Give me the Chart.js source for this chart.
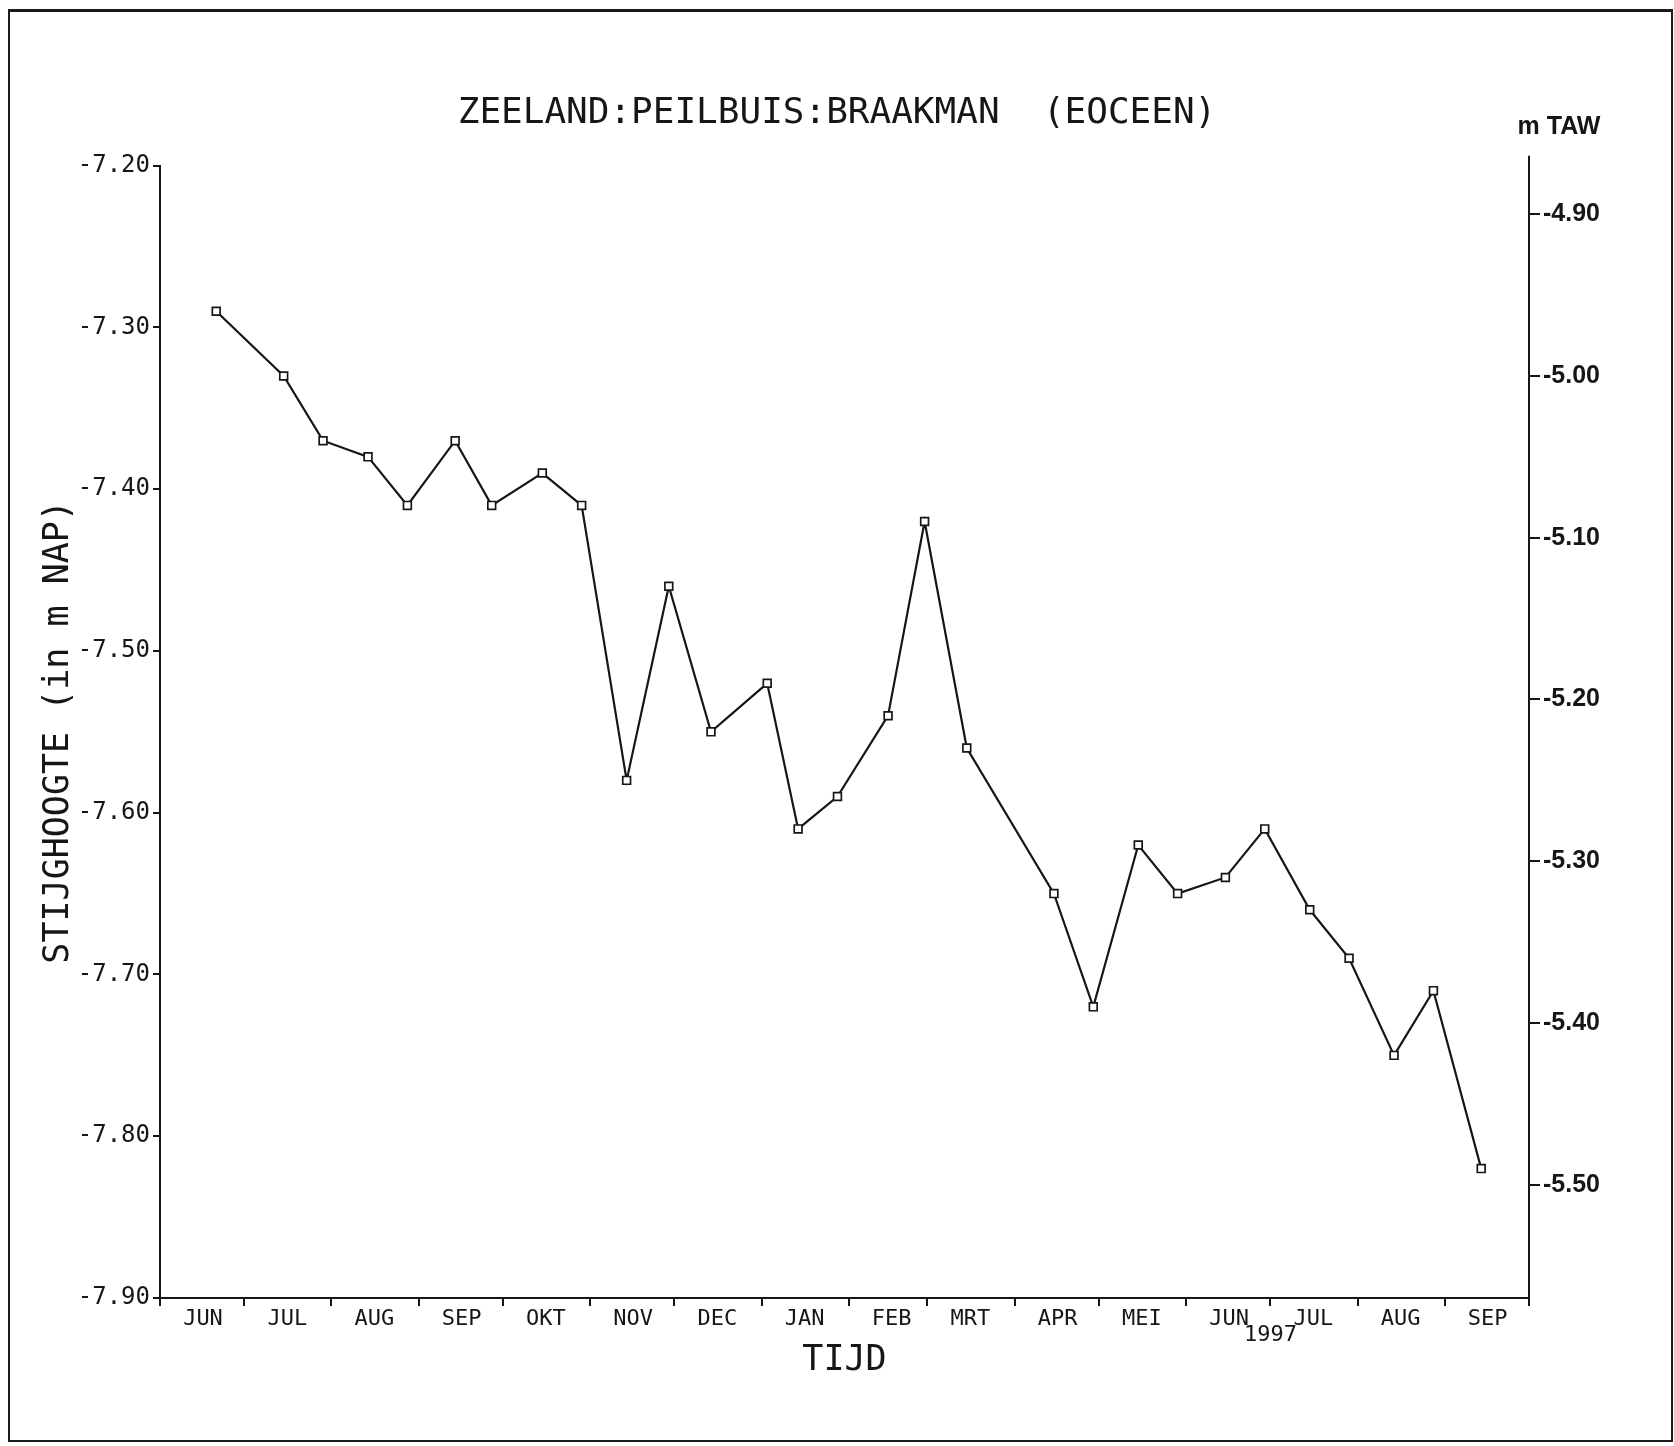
<!DOCTYPE html>
<html>
<head>
<meta charset="utf-8">
<script src="https://cdn.jsdelivr.net/npm/chart.js@4.4.1/dist/chart.umd.min.js"></script>
<style>
  html, body { margin: 0; padding: 0; background: #fff; }
  #wrap { position: relative; width: 1674px; height: 1446px; }
  #frame {
    position: absolute; left: 8px; top: 9px; width: 1665px; height: 1433px;
    box-sizing: border-box; pointer-events: none;
    border-left: 2px solid #1a1a1a; border-top: 3px solid #1a1a1a;
    border-bottom: 2px solid #1a1a1a; border-right: 2px solid #1a1a1a;
  }
  canvas { display: block; }
</style>
</head>
<body>
<div id="wrap">
  <canvas id="chart" width="1674" height="1446"></canvas>
  <div id="frame"></div>
</div>
<script>
// Measurement dates of the piezometer
const measureDates = [
  '1996-06-21', '1996-07-15', '1996-07-29', '1996-08-14', '1996-08-28',
  '1996-09-14', '1996-09-27', '1996-10-15', '1996-10-29', '1996-11-14',
  '1996-11-29', '1996-12-14', '1997-01-03', '1997-01-14', '1997-01-28',
  '1997-02-15', '1997-02-28', '1997-03-15', '1997-04-15', '1997-04-29',
  '1997-05-15', '1997-05-29', '1997-06-15', '1997-06-29', '1997-07-15',
  '1997-07-29', '1997-08-14', '1997-08-28', '1997-09-14'
];

// Groundwater level, m NAP
const levelsNAP = [
  -7.29, -7.33, -7.37, -7.38, -7.41,
  -7.37, -7.41, -7.39, -7.41, -7.58,
  -7.46, -7.55, -7.52, -7.61, -7.59,
  -7.54, -7.42, -7.56, -7.65, -7.72,
  -7.62, -7.65, -7.64, -7.61, -7.66,
  -7.69, -7.75, -7.71, -7.82
];

// Month boundaries of the time axis and the month names between them
const monthStarts = [
  '1996-06-01', '1996-07-01', '1996-08-01', '1996-09-01', '1996-10-01',
  '1996-11-01', '1996-12-01', '1997-01-01', '1997-02-01', '1997-03-01',
  '1997-04-01', '1997-05-01', '1997-06-01', '1997-07-01', '1997-08-01',
  '1997-09-01', '1997-10-01'
];
const monthLabels = [
  'JUN', 'JUL', 'AUG', 'SEP', 'OKT', 'NOV', 'DEC', 'JAN',
  'FEB', 'MRT', 'APR', 'MEI', 'JUN', 'JUL', 'AUG', 'SEP'
];
const yearLabel = '1997';
const yearLabelAt = '1997-07-01';

// Tick values of both vertical axes
const napTicks = [-7.20, -7.30, -7.40, -7.50, -7.60, -7.70, -7.80, -7.90];
const tawTicks = [-4.90, -5.00, -5.10, -5.20, -5.30, -5.40, -5.50];
const napToTaw = 2.33;   // m TAW = m NAP + 2.33
const napMin = -7.90, napMax = -7.20;

const DAY = 86400000;
const day0 = Date.UTC(1996, 5, 1);
const toDay = s => (Date.parse(s + 'T00:00:00Z') - day0) / DAY;

const INK = '#161616';
const MONO = '"DejaVu Sans Mono", monospace';

// Extra annotations: year under the axis, unit of the right axis
const extras = {
  id: 'extras',
  afterDraw(chart) {
    const { ctx, chartArea, scales } = chart;
    const x = scales.x, y2 = scales.y2;
    ctx.save();
    ctx.fillStyle = INK;
    ctx.textAlign = 'center';
    ctx.textBaseline = 'middle';
    ctx.font = '22px ' + MONO;
    ctx.fillText(yearLabel, x.getPixelForValue(toDay(yearLabelAt)), chartArea.bottom + 37);

    ctx.font = 'bold 25px "Liberation Sans Narrow", "Liberation Sans", sans-serif';
    ctx.fillText('m TAW', y2.left + 30, 127);

    // right axis line runs a little above the plot area
    ctx.strokeStyle = INK;
    ctx.lineWidth = 2;
    ctx.beginPath();
    ctx.moveTo(y2.left, chartArea.top - 10);
    ctx.lineTo(y2.left, chartArea.top);
    ctx.stroke();
    ctx.restore();
  }
};

new Chart(document.getElementById('chart'), {
  type: 'line',
  data: {
    datasets: [{
      data: measureDates.map((d, i) => ({ x: toDay(d), y: levelsNAP[i] })),
      yAxisID: 'y',
      borderColor: INK,
      borderWidth: 2.2,
      tension: 0,
      pointStyle: 'rect',
      pointRadius: 5.5,
      pointBorderWidth: 1.7,
      pointBorderColor: INK,
      pointBackgroundColor: '#fff'
    }]
  },
  options: {
    responsive: false,
    animation: false,
    devicePixelRatio: 1,
    layout: { padding: 0 },
    plugins: {
      legend: { display: false },
      tooltip: { enabled: false },
      title: {
        display: true,
        text: 'ZEELAND:PEILBUIS:BRAAKMAN  (EOCEEN)',
        color: INK,
        font: { family: MONO, size: 36, weight: 'normal', lineHeight: 1.2 },
        padding: { top: 92, bottom: 30.5 }
      }
    },
    scales: {
      x: {
        type: 'linear',
        position: 'bottom',
        min: toDay(monthStarts[0]),
        max: toDay(monthStarts[monthStarts.length - 1]),
        afterBuildTicks: s => { s.ticks = monthStarts.map(d => ({ value: toDay(d) })); },
        afterFit: s => { s.height = 148; },
        ticks: {
          autoSkip: false,
          maxRotation: 0,
          labelOffset: 43,
          padding: 0,
          color: INK,
          font: { family: MONO, size: 22 },
          callback: (v, i) => monthLabels[i] ?? ''
        },
        grid: { drawOnChartArea: false, drawTicks: true, tickLength: 8, color: INK, lineWidth: 2 },
        border: { display: true, color: INK, width: 2 },
        title: {
          display: true, text: 'TIJD', color: INK,
          font: { family: MONO, size: 35, lineHeight: 1.2 },
          padding: { top: 0, bottom: 64 }
        }
      },
      y: {
        position: 'left',
        min: napMin,
        max: napMax,
        afterBuildTicks: s => { s.ticks = napTicks.map(v => ({ value: v })); },
        afterFit: s => { s.width = 160; },
        ticks: {
          autoSkip: false,
          padding: 3,
          color: INK,
          font: { family: MONO, size: 24 },
          callback: v => v.toFixed(2)
        },
        grid: { drawOnChartArea: false, drawTicks: true, tickLength: 7, color: INK, lineWidth: 2 },
        border: { display: true, color: INK, width: 2 },
        title: {
          display: true, text: 'STIJGHOOGTE (in m NAP)', color: INK,
          font: { family: MONO, size: 35, lineHeight: 1.2 },
          padding: { top: 38, bottom: 0 }
        }
      },
      y2: {
        position: 'right',
        min: napMin + napToTaw,
        max: napMax + napToTaw,
        afterBuildTicks: s => { s.ticks = tawTicks.map(v => ({ value: v })); },
        afterFit: s => { s.width = 145; },
        ticks: {
          autoSkip: false,
          padding: 3,
          color: INK,
          font: { family: '"Liberation Sans Narrow", "Liberation Sans", sans-serif', size: 25, weight: 'bold' },
          callback: v => v.toFixed(2)
        },
        grid: { drawOnChartArea: false, drawTicks: true, tickLength: 11, color: INK, lineWidth: 2 },
        border: { display: true, color: INK, width: 2 }
      }
    }
  },
  plugins: [extras]
});
</script>
</body>
</html>
